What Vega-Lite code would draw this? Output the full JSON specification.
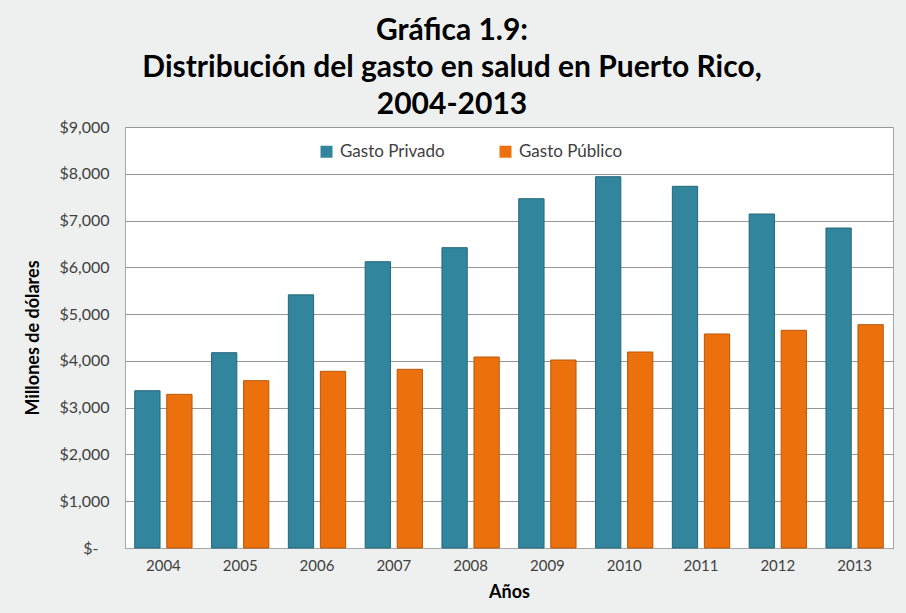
{
  "$schema": "https://vega.github.io/schema/vega-lite/v6.json",
  "width": 768,
  "height": 421,
  "autosize": {"type": "none"},
  "padding": {"left": 125, "top": 127, "right": 13, "bottom": 65},
  "background": "#eef0f0",
  "config": {
    "font": "Lato",
    "view": {"fill": "white", "stroke": "#a6a6a6", "strokeWidth": 1}
  },
  "title": {
    "text": ["Gráfica 1.9:", "Distribución del gasto en salud en Puerto Rico,", "2004-2013"],
    "font": "Lato",
    "fontSize": 30,
    "fontWeight": "bold",
    "color": "#000000",
    "lineHeight": 37,
    "anchor": "middle",
    "frame": "group",
    "dx": -57,
    "offset": -1
  },
  "data": {
    "values": [
      {"year": "2004", "serie": "Gasto Privado", "value": 3362},
      {"year": "2004", "serie": "Gasto Público", "value": 3285},
      {"year": "2005", "serie": "Gasto Privado", "value": 4175},
      {"year": "2005", "serie": "Gasto Público", "value": 3577},
      {"year": "2006", "serie": "Gasto Privado", "value": 5412},
      {"year": "2006", "serie": "Gasto Público", "value": 3777},
      {"year": "2007", "serie": "Gasto Privado", "value": 6120},
      {"year": "2007", "serie": "Gasto Público", "value": 3820},
      {"year": "2008", "serie": "Gasto Privado", "value": 6420},
      {"year": "2008", "serie": "Gasto Público", "value": 4083},
      {"year": "2009", "serie": "Gasto Privado", "value": 7467},
      {"year": "2009", "serie": "Gasto Público", "value": 4019},
      {"year": "2010", "serie": "Gasto Privado", "value": 7937},
      {"year": "2010", "serie": "Gasto Público", "value": 4190},
      {"year": "2011", "serie": "Gasto Privado", "value": 7732},
      {"year": "2011", "serie": "Gasto Público", "value": 4575},
      {"year": "2012", "serie": "Gasto Privado", "value": 7140},
      {"year": "2012", "serie": "Gasto Público", "value": 4654},
      {"year": "2013", "serie": "Gasto Privado", "value": 6840},
      {"year": "2013", "serie": "Gasto Público", "value": 4774}
    ]
  },
  "mark": {"type": "bar", "strokeWidth": 1},
  "encoding": {
    "x": {
      "field": "year",
      "type": "nominal",
      "scale": {"paddingInner": 0.254, "paddingOuter": 0.127},
      "axis": {
        "title": "Años",
        "titleFont": "Lato",
        "titleFontSize": 18,
        "titleFontWeight": "bold",
        "titleColor": "#000000",
        "titlePadding": 10,
        "labelAngle": 0,
        "labelFontSize": 15,
        "labelColor": "#404040",
        "labelPadding": 10,
        "ticks": false,
        "domainColor": "#a6a6a6",
        "grid": false
      }
    },
    "xOffset": {
      "field": "serie",
      "type": "nominal",
      "scale": {"paddingInner": 0.21, "paddingOuter": 0}
    },
    "y": {
      "field": "value",
      "type": "quantitative",
      "scale": {"domain": [0, 9000], "nice": false},
      "axis": {
        "title": "Millones de dólares",
        "titleFont": "Lato",
        "titleFontSize": 18,
        "titleFontWeight": "bold",
        "titleColor": "#000000",
        "titlePadding": 16,
        "values": [0, 1000, 2000, 3000, 4000, 5000, 6000, 7000, 8000, 9000],
        "labelExpr": "datum.value == 0 ? '$-' : '$' + format(datum.value, ',')",
        "labelFontSize": 16,
        "labelColor": "#404040",
        "labelPadding": {"condition": {"test": "datum.value === 0", "value": 27}, "value": 16},
        "ticks": false,
        "domain": false,
        "gridColor": "#969696",
        "gridWidth": 1
      }
    },
    "color": {
      "field": "serie",
      "type": "nominal",
      "scale": {"domain": ["Gasto Privado", "Gasto Público"], "range": ["#31859c", "#ec700c"]},
      "legend": {
        "title": null,
        "orient": "none",
        "legendX": 193,
        "legendY": 16,
        "direction": "horizontal",
        "columns": 2,
        "columnPadding": 52,
        "symbolType": "square",
        "symbolSize": 144,
        "symbolStrokeWidth": 0,
        "labelFontSize": 17,
        "labelColor": "#404040",
        "labelOffset": 5
      }
    },
    "stroke": {
      "field": "serie",
      "type": "nominal",
      "scale": {"domain": ["Gasto Privado", "Gasto Público"], "range": ["#25677a", "#b8580a"]},
      "legend": null
    }
  }
}
